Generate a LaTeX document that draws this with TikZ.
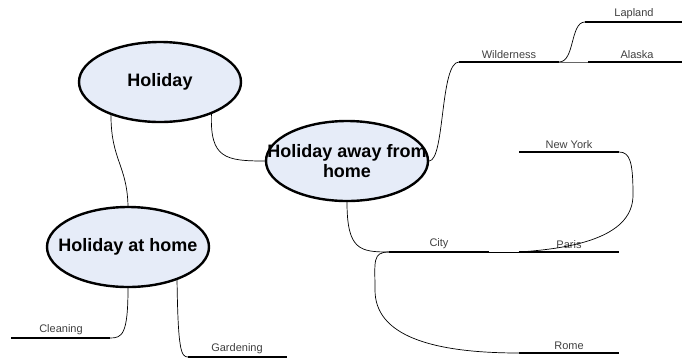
\documentclass[tikz,border=0pt]{standalone}
\usepackage{fontspec}
\setmainfont{Liberation Sans}
\usetikzlibrary{shapes.geometric}
\definecolor{topicfill}{RGB}{230,236,248}

\begin{document}
\begin{tikzpicture}[x=1pt, y=-1pt,
		topic/.style={ellipse, draw, line width=2.4pt, fill=topicfill,
			minimum width=162pt, minimum height=80pt, inner sep=0pt},
		topictext/.style={font=\fontsize{18}{20}\selectfont\bfseries, align=center, inner sep=0pt},
		bar/.style={line width=2.8pt},
		barlabel/.style={above, inner sep=3pt, font=\fontsize{11}{12}\selectfont, text=black!75},
		link/.style={line width=0.7pt}]
		\useasboundingbox (0,0) rectangle (682,360);

		% main topics
		\node[topic] (holiday) at (160,82) {};
		\node[topictext] (holiday-txt) at (holiday) {Holiday};

		\node[topic] (away) at (347,161) {};
		\node[topictext] (away-txt) at (away) {Holiday away from\\home};

		\node[topic] (home) at (128,247) {};
		\node[topictext] (home-txt) at (home) {Holiday at home};

		% branch end points
		\coordinate (wild-l) at (459,62);  \coordinate (wild-r) at (559,62);
		\coordinate (lap-l) at (585,22);   \coordinate (lap-r) at (682,22);
		\coordinate (ala-l) at (588,62);   \coordinate (ala-r) at (682,62);
		\coordinate (ny-l) at (519,152);   \coordinate (ny-r) at (619,152);
		\coordinate (city-l) at (389,252); \coordinate (city-r) at (489,252);
		\coordinate (par-l) at (519,252);  \coordinate (par-r) at (619,252);
		\coordinate (rome-l) at (519,353); \coordinate (rome-r) at (619,353);
		\coordinate (clean-l) at (11,338); \coordinate (clean-r) at (110,338);
		\coordinate (gard-l) at (188,357); \coordinate (gard-r) at (287,357);

		% bars
		\draw[bar] (wild-l) -- (wild-r);
		\draw[bar] (lap-l) -- (lap-r);
		\draw[bar] (ala-l) -- (ala-r);
		\draw[bar] (ny-l) -- (ny-r);
		\draw[bar] (city-l) -- (city-r);
		\draw[bar] (par-l) -- (par-r);
		\draw[bar] (rome-l) -- (rome-r);
		\draw[bar] (clean-l) -- (clean-r);
		\draw[bar] (gard-l) -- (gard-r);

		% labels on the bars
		\node[barlabel] (wild) at (509,62) {Wilderness};
		\node[barlabel] (lap) at (634,22) {Lapland};
		\node[barlabel] (ala) at (637,62) {Alaska};
		\node[barlabel] (ny) at (569,152) {New York};
		\node[barlabel] (city) at (439,252) {City};
		\node[barlabel] (par) at (569,252) {Paris};
		\node[barlabel] (rome) at (569,353) {Rome};
		\node[barlabel] (clean) at (61,338) {Cleaning};
		\node[barlabel] (gard) at (237,357) {Gardening};

		% links
		\draw[link] (holiday.214) .. controls (111,160) and (127,165) .. (home.north);
		\draw[link] (holiday.328) .. controls (210,158) and (225,161) .. (away.west);
		\draw[link] (away.east) .. controls (445,160) and (440,62) .. (wild-l);
		\draw[link] (wild-r) .. controls (575,62) and (570,22) .. (lap-l);
		\draw[link, black!60] (wild-r) -- (ala-l);
		\draw[link] (away.south) .. controls (347,250) and (360,252) .. (city-l);
		\draw[link] (city-l) .. controls (372,252) and (375,262) .. (375,290)
			.. controls (375,335) and (430,353) .. (rome-l);
		\draw[link] (city-r) -- (par-l);
		\draw[link] (ny-r) .. controls (630,152) and (633,162) .. (633,195)
			.. controls (633,235) and (580,248) .. (par-l);
		\draw[link] (home.south) .. controls (128,335) and (122,338) .. (clean-r);
		\draw[link] (home.326) .. controls (178,350) and (181,357) .. (gard-l);
	\end{tikzpicture}
\end{document}
